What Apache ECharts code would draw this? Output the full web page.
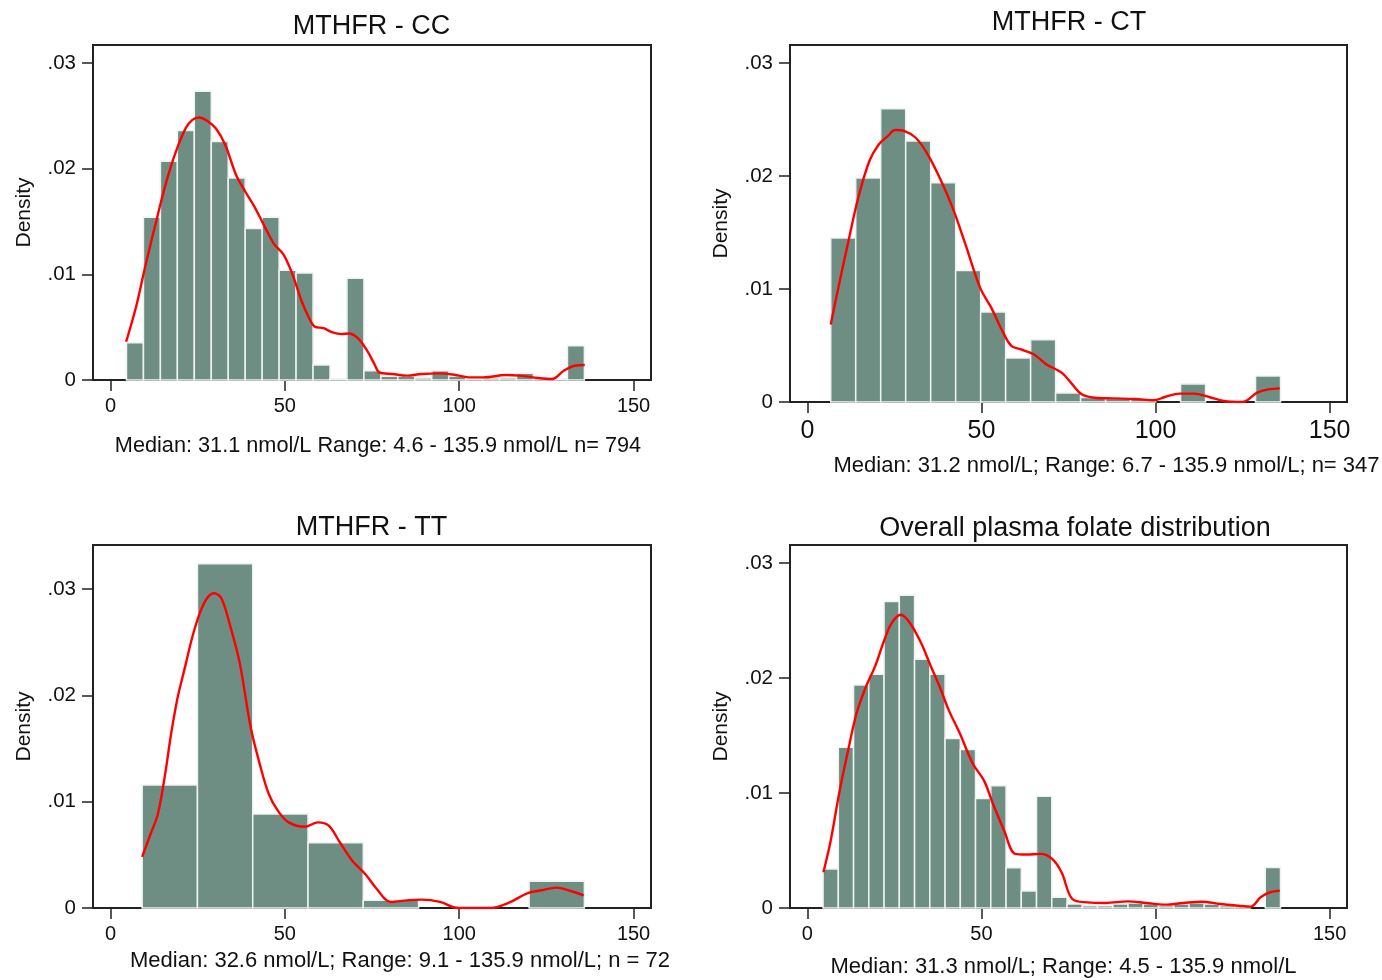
<!DOCTYPE html>
<html>
<head>
<meta charset="utf-8">
<script src="https://cdn.jsdelivr.net/npm/echarts@6/dist/echarts.min.js"></script>
<style>
html,body{margin:0;padding:0;background:#fff;}
#main{width:1382px;height:980px;}
</style>
</head>
<body>
<div id="main"></div>
<script>
// ---------- DATA ----------
var xTicks = [0, 50, 100, 150];
var yTicks = [0, 0.01, 0.02, 0.03];

// MTHFR - CC histogram (27 bins from 4.6, width 4.863)
var ccBinStart = 4.6, ccBinWidth = 4.863;
var ccDensity = [0.00352, 0.01541, 0.02069, 0.02362, 0.02733, 0.02258, 0.01912, 0.01434, 0.01541,
  0.01038, 0.01013, 0.00142, 0.00015, 0.00962, 0.00088, 0.00035, 0.00035, 0.0002, 0.00088, 0.00035,
  0.00013, 0.0002, 0.0002, 0.00063, 0.0002, 0.00013, 0.00325];
var ccKdeX = [4.5, 7.3, 9.9, 13.6, 16.2, 18.8, 21.6, 23.5, 25.4, 27.7, 30.3, 32.9, 36.0, 38.6, 41.2, 44.4,
  47.0, 49.6, 52.2, 54.8, 56.9, 58.5, 61.1, 63.7, 66.3, 68.4, 71.0, 73.6, 75.7, 77.2, 80.9, 85.1, 89.2,
  94.5, 98.6, 102.8, 107.0, 113.3, 117.4, 122.7, 126.6, 130.0, 133.1, 136.0];
var ccKdeY = [0.00362, 0.00686, 0.01063, 0.01566, 0.01896, 0.02164, 0.02384, 0.02462, 0.02484, 0.02453,
  0.02377, 0.02226, 0.01943, 0.01786, 0.01645, 0.0144, 0.01283, 0.01189, 0.01, 0.00748, 0.00591, 0.00506,
  0.0049, 0.0045, 0.00434, 0.0044, 0.00393, 0.00277, 0.00151, 0.00069, 0.00057, 0.00041, 0.00057, 0.00063,
  0.0005, 0.00025, 0.00025, 0.00047, 0.00041, 0.00019, 0.0001, 0.00088, 0.00135, 0.00142];

// MTHFR - CT histogram (18 bins from 6.7, width 7.178)
var ctBinStart = 6.7, ctBinWidth = 7.178;
var ctDensity = [0.01451, 0.01982, 0.02596, 0.0231, 0.01941, 0.01165, 0.00796, 0.00389, 0.00552,
  0.0008, 0.0004, 0.0003, 0.0003, 0, 0.0016, 0, 0, 0.0023];
var ctKdeX = [6.7, 9.3, 12.0, 14.6, 17.8, 20.5, 23.1, 25.2, 27.9, 31.1, 34.3, 38.0, 41.7, 45.4, 49.6,
  52.8, 56.0, 58.6, 61.3, 65.0, 68.7, 73.0, 76.1, 78.8, 82.5, 87.8, 94.2, 99.5, 102.7, 106.9, 111.1,
  115.4, 119.6, 124.9, 129.2, 132.3, 135.7];
var ctKdeY = [0.00687, 0.01071, 0.01454, 0.01808, 0.02133, 0.0228, 0.02354, 0.02407, 0.02398, 0.02339,
  0.02206, 0.01985, 0.0172, 0.01395, 0.01012, 0.00835, 0.00628, 0.00496, 0.00466, 0.00422, 0.00333,
  0.0026, 0.00156, 0.00068, 0.00038, 0.00032, 0.00027, 0.00015, 0.00044, 0.00074, 0.00074, 0.00044,
  0.00009, 0, 0.00083, 0.00112, 0.00121];

// MTHFR - TT histogram (8 bins from 9.1, width 15.85)
var ttBinStart = 9.1, ttBinWidth = 15.85;
var ttDensity = [0.01157, 0.03236, 0.00884, 0.00613, 0.00072, 0, 0, 0.00252];
var ttKdeX = [9.1, 11.5, 13.6, 15.7, 17.4, 19.3, 21.4, 23.5, 25.6, 27.7, 29.7, 31.8, 34.4, 37.1, 40.2,
  42.8, 45.4, 48.0, 51.1, 55.8, 59.5, 62.6, 65.8, 69.4, 73.1, 76.2, 80.4, 85.1, 89.2, 94.5, 99.7, 104.9,
  109.1, 114.3, 119.5, 123.7, 127.9, 132.0, 135.7];
var ttKdeY = [0.00481, 0.00695, 0.00884, 0.01261, 0.01638, 0.01984, 0.02267, 0.0255, 0.0277, 0.02912,
  0.02959, 0.02912, 0.02645, 0.02299, 0.01701, 0.01355, 0.01072, 0.00915, 0.00805, 0.00764, 0.00805,
  0.00774, 0.00616, 0.00443, 0.00318, 0.00186, 0.00057, 0.00072, 0.00079, 0.00057, 0, 0, 0, 0.0005,
  0.00138, 0.00167, 0.00192, 0.0016, 0.00119];

// Overall histogram (30 bins from 4.5, width 4.38)
var allBinStart = 4.5, allBinWidth = 4.38;
var allDensity = [0.0034, 0.01398, 0.01939, 0.02032, 0.02666, 0.02721, 0.02163, 0.02032, 0.01474,
  0.01378, 0.00953, 0.01064, 0.0035, 0.00148, 0.00971, 0.00094, 0.00035, 0.0002, 0.0002, 0.00035,
  0.00043, 0.00035, 0.0002, 0.00035, 0.00043, 0.00035, 0.0002, 0.00015, 0, 0.00352];
var allKdeX = [4.6, 6.7, 9.1, 11.5, 14.1, 16.8, 19.4, 22.1, 24.2, 26.8, 29.5, 32.7, 35.3, 38.0, 40.6,
  43.8, 47.5, 50.7, 53.3, 56.5, 59.7, 62.9, 67.1, 70.3, 73.0, 76.1, 80.4, 85.7, 92.0, 97.3, 102.7,
  108.0, 113.3, 118.6, 123.9, 127.3, 130.2, 132.9, 135.7];
var allKdeY = [0.00311, 0.00587, 0.00994, 0.01343, 0.01692, 0.01924, 0.02099, 0.02331, 0.02477, 0.0255,
  0.02477, 0.02302, 0.02113, 0.01924, 0.01721, 0.01517, 0.01256, 0.0111, 0.00907, 0.00674, 0.00471,
  0.00465, 0.00471, 0.00427, 0.00311, 0.00078, 0.00049, 0.00044, 0.00058, 0.00044, 0.00029, 0.00044,
  0.00055, 0.00035, 0.0002, 0.00012, 0.00093, 0.00137, 0.00151];

var titles = ['MTHFR - CC', 'MTHFR - CT', 'MTHFR - TT', 'Overall plasma folate distribution'];
var captions = [
  'Median: 31.1 nmol/L Range: 4.6 - 135.9 nmol/L n= 794',
  'Median: 31.2 nmol/L; Range: 6.7 - 135.9 nmol/L; n= 347',
  'Median: 32.6 nmol/L; Range: 9.1 - 135.9 nmol/L; n = 72',
  'Median: 31.3 nmol/L; Range: 4.5 - 135.9 nmol/L'
];
var yAxisTitle = 'Density';

// ---------- BUILD ----------
var FONT = "'Liberation Sans', Arial, Helvetica, sans-serif";
var BAR_FILL = '#6e8e83';
var INK = '#111';
var FRAME = '#222';

function bins(start, width, dens) {
  return dens.map(function (d, i) { return [start + i * width, start + (i + 1) * width, d]; });
}
function pairs(xs, ys) { return xs.map(function (x, i) { return [x, ys[i]]; }); }

var panels = [
  { bars: bins(ccBinStart, ccBinWidth, ccDensity), kde: pairs(ccKdeX, ccKdeY),
    grid: { left: 93, top: 45, width: 558, height: 335 }, ymax: 0.0317,
    titleX: 371.5, titleTop: 13.5, xFont: 20, xMargin: 16, capGap: 55, capFont: 21.7, capPad: [0, 0, 0, 12] },
  { bars: bins(ctBinStart, ctBinWidth, ctDensity), kde: pairs(ctKdeX, ctKdeY),
    grid: { left: 790, top: 45, width: 557, height: 357 }, ymax: 0.0316,
    titleX: 1069, titleTop: 9.5, xFont: 25, xMargin: 17, capGap: 53, capFont: 22, capPad: [0, 0, 0, 76] },
  { bars: bins(ttBinStart, ttBinWidth, ttDensity), kde: pairs(ttKdeX, ttKdeY),
    grid: { left: 93, top: 545, width: 558, height: 363 }, ymax: 0.03413,
    titleX: 371.5, titleTop: 514.5, xFont: 20, xMargin: 16, capGap: 42, capFont: 22, capPad: [0, 0, 0, 56] },
  { bars: bins(allBinStart, allBinWidth, allDensity), kde: pairs(allKdeX, allKdeY),
    grid: { left: 790, top: 545, width: 557, height: 363 }, ymax: 0.03157,
    titleX: 1075, titleTop: 515.5, xFont: 20, xMargin: 16, capGap: 48, capFont: 22, capPad: [0, 10, 0, 0] }
];

var option = {
  backgroundColor: '#ffffff',
  animation: false,
  textStyle: { fontFamily: FONT },
  title: [], grid: [], xAxis: [], yAxis: [], series: []
};

panels.forEach(function (p, i) {
  option.title.push({
    text: titles[i], left: p.titleX, top: p.titleTop, textAlign: 'center', padding: 0,
    textStyle: { fontSize: 27, fontWeight: 'normal', color: INK, fontFamily: FONT }
  });
  option.grid.push({
    left: p.grid.left, top: p.grid.top, width: p.grid.width, height: p.grid.height,
    show: true, borderColor: FRAME, borderWidth: 2, backgroundColor: 'transparent', containLabel: false
  });
  option.xAxis.push({
    gridIndex: i, type: 'value', min: -5, max: 155,
    axisLine: { show: true, onZero: false, lineStyle: { color: FRAME, width: 2 } },
    axisTick: { show: true, inside: false, length: 11, customValues: xTicks, lineStyle: { color: FRAME, width: 1.5 } },
    axisLabel: { show: true, customValues: xTicks, fontSize: p.xFont, color: INK, margin: p.xMargin, fontFamily: FONT },
    splitLine: { show: false },
    name: captions[i], nameLocation: 'middle', nameGap: p.capGap,
    nameTextStyle: { fontSize: p.capFont, color: INK, fontFamily: FONT, padding: p.capPad }
  });
  option.yAxis.push({
    gridIndex: i, type: 'value', min: 0, max: p.ymax,
    axisLine: { show: true, onZero: false, lineStyle: { color: FRAME, width: 2 } },
    axisTick: { show: true, inside: false, length: 11, customValues: yTicks, lineStyle: { color: FRAME, width: 1.5 } },
    axisLabel: {
      show: true, customValues: yTicks, fontSize: 20.5, color: INK, margin: 17, fontFamily: FONT,
      formatter: function (v) { return v === 0 ? '0' : '.0' + Math.round(v * 100); }
    },
    splitLine: { show: false },
    name: yAxisTitle, nameLocation: 'middle', nameGap: 58, nameRotate: 90,
    nameTextStyle: { fontSize: 21, color: INK, fontFamily: FONT }
  });
  option.series.push({
    type: 'custom', xAxisIndex: i, yAxisIndex: i, data: p.bars,
    encode: { x: [0, 1], y: 2 },
    renderItem: function (params, api) {
      var x0 = api.value(0), x1 = api.value(1), h = api.value(2);
      if (!(h > 0)) return null;
      var a = api.coord([x0, h]);
      var b = api.coord([x1, 0]);
      return {
        type: 'rect',
        shape: { x: a[0], y: a[1], width: b[0] - a[0], height: b[1] - a[1] },
        style: { fill: BAR_FILL, stroke: '#eef2f0', lineWidth: 1.5 }
      };
    },
    z: 2
  });
  option.series.push({
    type: 'line', xAxisIndex: i, yAxisIndex: i, data: p.kde,
    smooth: 0.35, showSymbol: false, symbol: 'none',
    lineStyle: { color: '#ff0000', width: 2.4 }, z: 3, clip: true
  });
});

var chart = echarts.init(document.getElementById('main'), null, { renderer: 'canvas', width: 1382, height: 980 });
chart.setOption(option);
</script>
</body>
</html>
